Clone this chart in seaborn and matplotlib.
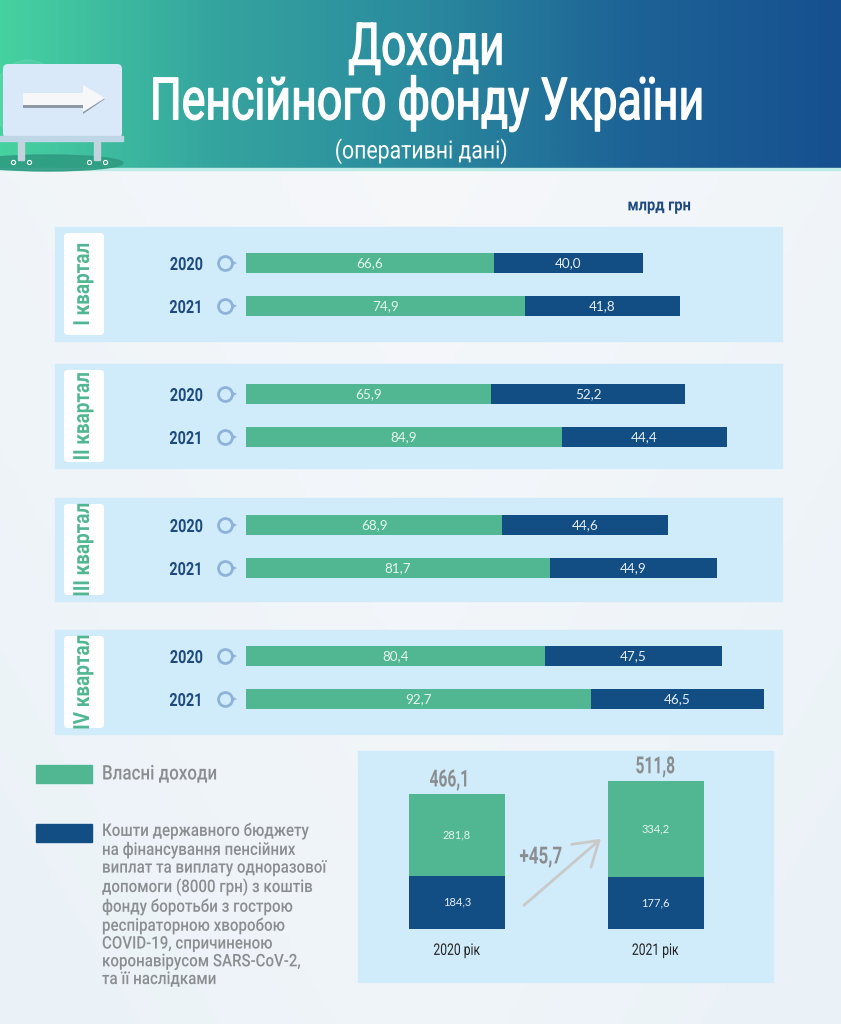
# plot.py - Доходи Пенсійного фонду України, kvartal po kvartalu
import numpy as np
import pandas as pd
import matplotlib.pyplot as plt
import seaborn as sns
from matplotlib.colors import LinearSegmentedColormap
from matplotlib.patches import FancyBboxPatch, Polygon, Rectangle, Ellipse
from matplotlib.patheffects import AbstractPathEffect
from matplotlib.transforms import Affine2D

# Datos
quarters = ["I квартал", "II квартал", "III квартал", "IV квартал"]
years = ["2020", "2021"]
own_income = [[66.6, 74.9], [65.9, 84.9], [68.9, 81.7], [80.4, 92.7]]
state_budget = [[40.0, 41.8], [52.2, 44.4], [44.6, 44.9], [47.5, 46.5]]

year_labels = ["2020 рік", "2021 рік"]
own_total = [281.8, 334.2]
state_total = [184.3, 177.6]
total_labels = ["466,1", "511,8"]
delta_label = "+45,7"

legend_own = "Власні доходи"
legend_state = ("Кошти державного бюджету\nна фінансування пенсійних\n"
                "виплат та виплату одноразової\nдопомоги (8000 грн) з коштів\n"
                "фонду боротьби з гострою\nреспіраторною хворобою\n"
                "COVID-19, спричиненою\nкоронавірусом SARS-CoV-2,\nта її наслідками")

# Colores
GREEN = "#50B792"
BLUE = "#124D84"
PANEL = "#D0EBF9"
GREY = "#8B8E91"
NAVY = "#1E4A7E"
W, H = 841, 1024
COND = ["Roboto", "DejaVu Sans"]


class Condense(AbstractPathEffect):
    """Estrecha el texto dibujado, no hay fuente condensada instalada."""

    def __init__(self, sx, anchor="center", vertical=False, stroke=0):
        super().__init__()
        self.sx, self.anchor, self.vertical, self.stroke = sx, anchor, vertical, stroke

    def draw_path(self, renderer, gc, tpath, affine, rgbFace=None):
        pts = affine.transform(tpath.vertices)
        col = pts[:, 1] if self.vertical else pts[:, 0]
        lo, hi = col.min(), col.max()
        c = {"left": lo, "right": hi, "center": (lo + hi) / 2}[self.anchor]
        if self.vertical:
            squeeze = Affine2D().translate(0, -c).scale(1, self.sx).translate(0, c)
        else:
            squeeze = Affine2D().translate(-c, 0).scale(self.sx, 1).translate(c, 0)
        gc0 = renderer.new_gc()
        gc0.copy_properties(gc)
        if self.stroke:
            gc0.set_foreground(rgbFace)
            gc0.set_linewidth(self.stroke)
        renderer.draw_path(gc0, tpath, affine + squeeze, rgbFace)
        gc0.restore()


sns.set_theme(style="white")
plt.rcParams["font.family"] = ["Lato", "DejaVu Sans"]

fig = plt.figure(figsize=(W / 100, H / 100), dpi=100)
bg = fig.add_axes([0, 0, 1, 1], zorder=0)
bg.axis("off")


def px_axes(left, top, right, bottom):
    ax = fig.add_axes([left / W, 1 - bottom / H, (right - left) / W, (bottom - top) / H], zorder=2)
    ax.patch.set_alpha(0)
    sns.despine(ax=ax, left=True, bottom=True)
    return ax


def fmt(v):
    return f"{v:.1f}".replace(".", ",")


# Fondo
page = LinearSegmentedColormap.from_list("page", ["#F7F8FA", "#E8F1F7"])
gx, gy = np.meshgrid(np.linspace(0, 1, 200), np.linspace(0, 1, 200))
bg.imshow(0.5 * gy + 0.5 * np.abs(gx - 0.5) * 1.4, cmap=page, extent=[0, W, H, 0], aspect="auto", vmin=0, vmax=1)
head = LinearSegmentedColormap.from_list("head", ["#46D29F", "#35A59F", "#2A8A9E", "#1D6396", "#16508F"])
bg.imshow(np.linspace(0, 1, 400)[None, :], cmap=head, extent=[0, W, 168, 0], aspect="auto")
bg.add_patch(Rectangle((0, 168), W, 2, color="#BDEBE6"))
bg.set_xlim(0, W)
bg.set_ylim(H, 0)

# Icono del cartel
bg.add_patch(Ellipse((28, 100), 70, 80, color="white", alpha=0.08))
bg.add_patch(Ellipse((48, 163), 150, 16, color="#2F9C82", alpha=0.9))
for x in (21, 97):
    bg.add_patch(Rectangle((x - 3, 138), 6, 22, color="#C4D4DE"))
    bg.plot([x - 8, x + 8], [162, 162], "o", ms=3, mfc="none", mec="white", mew=0.8)
bg.add_patch(FancyBboxPatch((3, 64), 119, 74, boxstyle="round,pad=0,rounding_size=5", fc="#D9E9FA", ec="none"))
bg.add_patch(Rectangle((0, 136), 123, 5, color="#BFD6E6"))
bg.add_patch(Polygon([[23, 95], [83, 95], [83, 87], [105, 99], [83, 114], [83, 108], [23, 108]],
                     fc="#8D9AA5", ec="none"))
bg.add_patch(Polygon([[23, 93], [83, 93], [83, 85], [105, 98], [83, 112], [83, 105], [23, 105]],
                     fc="#F5F7F9", ec="none"))

# Titulos
bg.text(427, 49, "Доходи", color="white", fontsize=42, family=COND, ha="center", va="center",
        path_effects=[Condense(0.75, stroke=1.0)])
bg.text(428, 104, "Пенсійного фонду України", color="white", fontsize=42, family=COND,
        ha="center", va="center", path_effects=[Condense(0.765, stroke=1.0)])
bg.text(421, 151, "(оперативні дані)", color="white", fontsize=18, family=COND, ha="center", va="center",
        path_effects=[Condense(0.85)])
bg.text(659, 206, "млрд грн", color=NAVY, fontsize=12, family=COND, weight="bold", ha="center", va="center",
        path_effects=[Condense(0.88)])

# Paneles por trimestre
panel_box = [(227, 341), (364, 468), (498, 601), (630, 734)]
bar_2020 = [263, 394, 525, 656]
PX_UNIT = 3.72
ROW_STEP = 43

for i, q in enumerate(quarters):
    top, bottom = panel_box[i]
    bg.add_patch(Rectangle((55, top), 727, bottom - top, color=PANEL))
    bg.add_patch(FancyBboxPatch((64, top + 6), 40, bottom - top - 12,
                                boxstyle="round,pad=0,rounding_size=4", fc="white", ec="none"))
    bg.text(83, (top + bottom) / 2, q, color=GREEN, fontsize=16, family=COND, weight="bold",
            rotation=90, ha="center", va="center", path_effects=[Condense(0.85, vertical=True)])

    df = pd.DataFrame({"year": years, "own": own_income[i], "state": state_budget[i]})
    df["total"] = df["own"] + df["state"]

    ax = px_axes(246, top, 782, bottom)
    sns.barplot(data=df, y="year", x="total", color=BLUE, width=20 / ROW_STEP, saturation=1, linewidth=0, ax=ax)
    sns.barplot(data=df, y="year", x="own", color=GREEN, width=20 / ROW_STEP, saturation=1, linewidth=0, ax=ax)
    ax.set_xlim(0, 536 / PX_UNIT)
    ax.set_ylim(1 + (bottom - bar_2020[i] - ROW_STEP) / ROW_STEP, -(bar_2020[i] - top) / ROW_STEP)
    ax.set_xlabel("")
    ax.set_ylabel("")
    ax.set_xticks([])
    ax.tick_params(axis="y", length=0, pad=31, labelcolor=NAVY)
    for lab in ax.get_yticklabels():
        lab.set_fontfamily(COND)
        lab.set_fontweight("bold")
        lab.set_fontsize(13)
        lab.set_path_effects([Condense(0.8, anchor="right")])
    for j, row in df.iterrows():
        ax.text(row["own"] / 2, j, fmt(row["own"]), color="#E6F5EF", fontsize=9.7, ha="center", va="center")
        ax.text(row["own"] + row["state"] / 2, j, fmt(row["state"]), color="#E6EEF5", fontsize=9.7,
                ha="center", va="center")
        # Circulito junto al anio
        cy = bar_2020[i] + j * ROW_STEP
        bg.plot([225], [cy], "o", ms=10, mfc="none", mec="#8FB2DA", mew=2)
        bg.plot([234], [cy], ">", ms=4.5, color="#8FB2DA", mew=0)

# Leyenda
bg.add_patch(Rectangle((36, 765), 56, 18, color=GREEN))
bg.add_patch(Rectangle((36, 824), 56, 18, color=BLUE))
bg.text(102, 774, legend_own, color=GREY, fontsize=14.5, family=COND, weight=500, va="center",
        path_effects=[Condense(0.84, anchor="left")])
bg.text(102, 905, legend_state, color=GREY, fontsize=12.5, family=COND, weight=500, va="center",
        linespacing=1.23, path_effects=[Condense(0.87, anchor="left")])

# Resumen anual
bg.add_patch(Rectangle((358, 751), 415, 231, color=PANEL))
SUM_UNIT = 0.29
sum_df = pd.DataFrame({"year": year_labels, "own": own_total, "state": state_total})
sum_df["total"] = sum_df["own"] + sum_df["state"]
SUM_STEP = 198.5
ax2 = px_axes(358, 751, 773, 929)
sns.barplot(data=sum_df, x="year", y="total", color=GREEN, width=96 / SUM_STEP, saturation=1, linewidth=0, ax=ax2)
sns.barplot(data=sum_df, x="year", y="state", color=BLUE, width=96 / SUM_STEP, saturation=1, linewidth=0, ax=ax2)
ax2.set_xlim((358 - 457) / SUM_STEP, 1 + (773 - 655.5) / SUM_STEP)
ax2.set_ylim(0, 178 / SUM_UNIT)
ax2.set_xlabel("")
ax2.set_ylabel("")
ax2.set_yticks([])
ax2.tick_params(axis="x", length=0, pad=10, labelcolor="#222222")
for lab in ax2.get_xticklabels():
    lab.set_fontfamily(COND)
    lab.set_fontsize(11.5)
    lab.set_path_effects([Condense(0.76)])
for j, row in sum_df.iterrows():
    ax2.text(j, row["state"] + row["own"] / 2, fmt(row["own"]), color="#E6F5EF", fontsize=8, ha="center", va="center")
    ax2.text(j, row["state"] / 2, fmt(row["state"]), color="#E6EEF5", fontsize=8, ha="center", va="center")
    ax2.text(j - (7 / SUM_STEP if j == 0 else 0), row["total"] + 8, total_labels[j], color=GREY, fontsize=17,
             family=COND, weight="bold", ha="center", va="bottom", path_effects=[Condense(0.66)])

# Flecha de variacion
bg.annotate("", xy=(603, 837), xytext=(522, 907),
            arrowprops=dict(arrowstyle="->,head_length=1.4,head_width=0.9", color="#C9C9C9", lw=2))
bg.text(541, 857, delta_label, color=GREY, fontsize=17, family=COND, weight="bold", ha="center", va="center",
        path_effects=[Condense(0.72)])

fig.savefig("out.png", dpi=100)
